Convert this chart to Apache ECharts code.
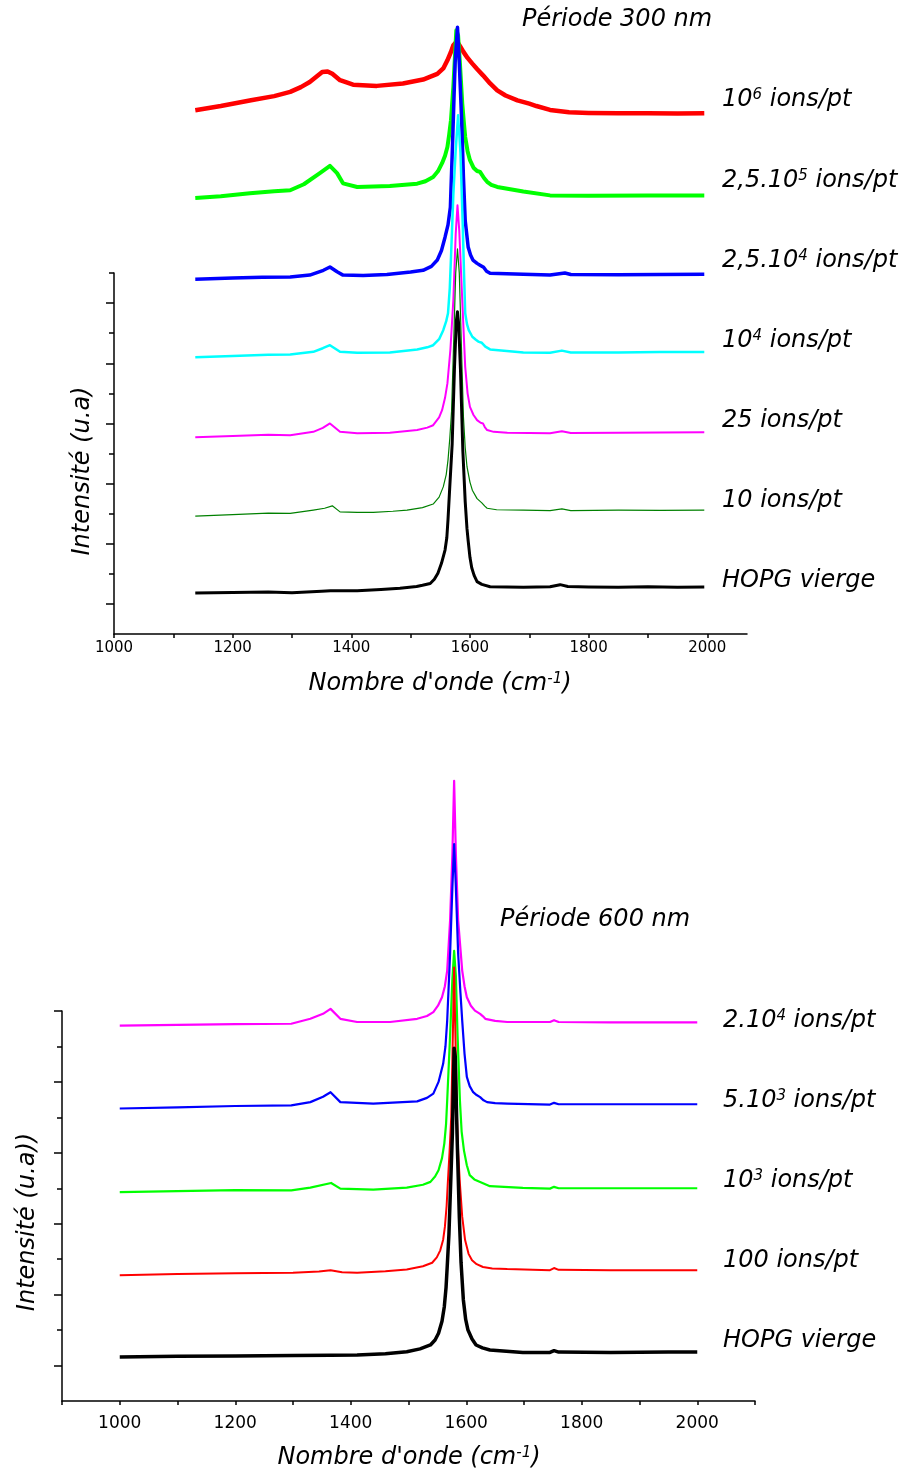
<!DOCTYPE html>
<html>
<head>
<meta charset="utf-8">
<script src="https://cdn.jsdelivr.net/npm/echarts@6/dist/echarts.min.js"></script>
<style>
html,body{margin:0;padding:0;background:#fff;}
#chart{width:914px;height:1475px;}
</style>
</head>
<body>
<div id="chart"></div>
<script>
// ---------- DATA (wavenumber cm-1, intensity in axis units) ----------
// Top panel: Période 300 nm
const topXTicks = [1000,1100,1200,1300,1400,1500,1600,1700,1800,1900,2000];
const topXLabels = [1000,1200,1400,1600,1800,2000];
const topYMajor = [1,3,5,7,9,11];
const topYMinor = [2,4,6,8,10,12];

const topRed = [[1137,17.41],[1180,17.55],[1231,17.74],[1270,17.88],[1297,18.02],[1315,18.18],[1330,18.35],[1351,18.68],[1360,18.7],[1368,18.62],[1381,18.41],[1403,18.26],[1443,18.22],[1487,18.30],[1521,18.43],[1545,18.62],[1555,18.8],[1562,19.07],[1568,19.35],[1572,19.57],[1578,19.7],[1583,19.55],[1589,19.35],[1596,19.15],[1604,18.96],[1612,18.78],[1622,18.57],[1634,18.3],[1646,18.07],[1660,17.9],[1680,17.74],[1700,17.63],[1712,17.55],[1735,17.42],[1767,17.34],[1800,17.32],[1850,17.31],[1900,17.31],[1950,17.3],[1995,17.31]];
const topGreen = [[1137,14.49],[1180,14.55],[1229,14.65],[1270,14.72],[1297,14.75],[1320,14.95],[1347,15.32],[1364,15.56],[1376,15.32],[1386,14.98],[1410,14.86],[1465,14.89],[1511,14.97],[1525,15.05],[1538,15.19],[1546,15.38],[1553,15.65],[1558,15.9],[1562,16.19],[1565,16.6],[1568,17.08],[1572,18.18],[1575,19.3],[1577,20.07],[1580,19.9],[1583,19.0],[1587,17.64],[1590,16.95],[1592,16.52],[1596,16.05],[1600,15.75],[1606,15.5],[1612,15.39],[1617,15.36],[1620,15.33],[1624,15.15],[1629,15.03],[1636,14.93],[1646,14.86],[1690,14.71],[1735,14.58],[1800,14.57],[1900,14.58],[1995,14.58]];
const topBlue = [[1137,11.79],[1200,11.83],[1250,11.86],[1297,11.87],[1330,11.93],[1353,12.09],[1364,12.2],[1376,12.04],[1386,11.93],[1420,11.92],[1460,11.95],[1500,12.03],[1521,12.09],[1535,12.22],[1545,12.43],[1552,12.75],[1558,13.19],[1563,13.6],[1567,14.19],[1571,16.5],[1575,19.0],[1579,20.17],[1582,19.0],[1586,17.08],[1589,15.2],[1592,13.75],[1597,12.86],[1601,12.6],[1605,12.43],[1612,12.32],[1617,12.26],[1623,12.19],[1628,12.06],[1634,11.99],[1690,11.96],[1735,11.93],[1760,12.0],[1770,11.95],[1850,11.94],[1920,11.95],[1995,11.96]];
const topCyan = [[1137,9.2],[1200,9.24],[1260,9.28],[1297,9.29],[1336,9.38],[1352,9.5],[1364,9.6],[1381,9.38],[1410,9.35],[1465,9.36],[1511,9.46],[1528,9.53],[1538,9.6],[1548,9.8],[1555,10.1],[1560,10.4],[1563,10.66],[1566,11.5],[1568,12.5],[1572,14.6],[1576,16.1],[1580,17.24],[1584,16.0],[1588,13.5],[1590,12.0],[1592,10.66],[1595,10.3],[1598,10.1],[1604,9.88],[1610,9.78],[1614,9.72],[1620,9.68],[1626,9.55],[1634,9.46],[1690,9.36],[1735,9.35],[1755,9.42],[1770,9.36],[1850,9.36],[1920,9.37],[1995,9.37]];
const topMagenta = [[1137,6.54],[1200,6.58],[1260,6.62],[1297,6.61],[1336,6.72],[1352,6.85],[1364,7.0],[1381,6.72],[1410,6.67],[1465,6.69],[1511,6.78],[1528,6.86],[1538,6.94],[1548,7.2],[1553,7.44],[1558,7.85],[1562,8.33],[1567,9.44],[1572,11.1],[1576,13.3],[1579,14.25],[1582,13.4],[1587,11.1],[1592,8.88],[1596,8.0],[1600,7.55],[1606,7.28],[1612,7.11],[1618,7.02],[1622,7.0],[1625,6.88],[1629,6.78],[1640,6.72],[1663,6.69],[1700,6.68],[1735,6.67],[1755,6.74],[1770,6.68],[1850,6.69],[1920,6.7],[1995,6.71]];
const topDarkGreen = [[1137,3.92],[1200,3.97],[1260,4.02],[1297,4.01],[1336,4.12],[1355,4.18],[1368,4.26],[1381,4.06],[1410,4.04],[1437,4.04],[1470,4.08],[1494,4.12],[1520,4.2],[1538,4.32],[1548,4.55],[1555,4.89],[1560,5.3],[1563,5.78],[1566,6.5],[1569,7.4],[1573,10.0],[1576,12.0],[1579,12.8],[1582,12.0],[1585,10.0],[1589,7.22],[1592,6.2],[1595,5.56],[1600,5.05],[1604,4.78],[1612,4.5],[1620,4.36],[1625,4.25],[1629,4.18],[1645,4.13],[1690,4.12],[1735,4.10],[1755,4.16],[1770,4.1],[1850,4.12],[1920,4.11],[1995,4.12]];
const topBlack = [[1137,1.36],[1200,1.38],[1260,1.40],[1300,1.37],[1350,1.42],[1365,1.44],[1410,1.44],[1450,1.48],[1482,1.52],[1510,1.58],[1520,1.62],[1533,1.68],[1540,1.82],[1546,2.02],[1552,2.35],[1558,2.79],[1561,3.2],[1563,3.8],[1566,4.9],[1570,6.3],[1574,8.9],[1577,10.4],[1579,10.71],[1581,10.3],[1584,8.8],[1588,6.1],[1592,4.4],[1595,3.5],[1597,3.1],[1600,2.55],[1603,2.2],[1607,1.95],[1612,1.74],[1620,1.65],[1634,1.57],[1690,1.55],[1735,1.57],[1752,1.64],[1765,1.58],[1800,1.56],[1850,1.55],[1900,1.57],[1950,1.55],[1995,1.56]];

// Bottom panel: Période 600 nm
const botXTicks = [900,1000,1100,1200,1300,1400,1500,1600,1700,1800,1900,2000,2100];
const botXLabels = [1000,1200,1400,1600,1800,2000];
const botYMajor = [1,3,5,7,9,11];
const botYMinor = [2,4,6,8,10];

const botMagenta = [[1000,10.59],[1100,10.61],[1200,10.63],[1297,10.64],[1330,10.78],[1352,10.92],[1365,11.06],[1382,10.78],[1411,10.69],[1468,10.69],[1515,10.78],[1532,10.86],[1543,10.97],[1551,11.15],[1558,11.39],[1563,11.7],[1567,12.14],[1572,13.55],[1576,15.43],[1579,17.49],[1582,15.43],[1586,13.55],[1593,12.14],[1597,11.7],[1601,11.39],[1608,11.15],[1615,11.01],[1624,10.92],[1629,10.85],[1633,10.78],[1650,10.72],[1671,10.69],[1745,10.69],[1752,10.74],[1760,10.69],[1850,10.68],[1950,10.68],[2000,10.68]];
const botBlue = [[1000,8.25],[1100,8.28],[1200,8.32],[1297,8.34],[1330,8.43],[1352,8.58],[1365,8.71],[1382,8.43],[1439,8.39],[1515,8.45],[1532,8.55],[1543,8.67],[1552,9.0],[1560,9.51],[1564,10.0],[1567,10.73],[1572,12.61],[1576,14.49],[1579,15.71],[1582,14.49],[1586,12.61],[1590,11.5],[1593,10.73],[1597,9.8],[1601,9.14],[1606,8.88],[1612,8.71],[1618,8.63],[1624,8.57],[1630,8.48],[1636,8.43],[1650,8.4],[1671,8.39],[1745,8.36],[1752,8.41],[1760,8.37],[1850,8.37],[1950,8.37],[2000,8.37]];
const botGreen = [[1000,5.89],[1100,5.92],[1200,5.95],[1297,5.94],[1330,6.02],[1366,6.15],[1382,5.99],[1439,5.96],[1497,6.02],[1525,6.1],[1538,6.18],[1546,6.33],[1552,6.51],[1558,6.85],[1562,7.26],[1565,7.8],[1567,8.48],[1572,10.3],[1576,11.9],[1579,12.70],[1582,12.0],[1585,10.3],[1589,8.48],[1592,7.6],[1596,7.07],[1601,6.65],[1606,6.37],[1614,6.25],[1624,6.18],[1641,6.06],[1698,6.01],[1745,5.99],[1752,6.04],[1760,6.0],[1850,6.0],[1950,6.0],[2000,6.0]];
const botRed = [[1000,3.55],[1100,3.58],[1200,3.6],[1300,3.62],[1345,3.65],[1365,3.69],[1385,3.63],[1411,3.62],[1460,3.66],[1497,3.71],[1525,3.8],[1541,3.90],[1549,4.05],[1555,4.25],[1560,4.55],[1563,4.91],[1566,5.5],[1568,6.13],[1571,7.0],[1574,8.01],[1577,10.5],[1579,12.23],[1581,10.5],[1584,8.01],[1586,7.0],[1589,6.13],[1593,5.2],[1598,4.54],[1604,4.15],[1610,3.97],[1618,3.86],[1629,3.78],[1645,3.74],[1671,3.72],[1745,3.69],[1752,3.75],[1760,3.70],[1850,3.69],[1950,3.69],[2000,3.69]];
const botBlack = [[1000,1.24],[1100,1.26],[1200,1.27],[1300,1.28],[1365,1.29],[1411,1.30],[1460,1.33],[1497,1.39],[1520,1.47],[1538,1.58],[1546,1.72],[1552,1.91],[1558,2.25],[1562,2.66],[1565,3.2],[1567,3.78],[1570,4.7],[1572,5.66],[1576,7.54],[1579,9.95],[1581,9.7],[1584,7.54],[1588,5.19],[1591,3.9],[1595,2.85],[1599,2.3],[1603,2.0],[1610,1.75],[1617,1.58],[1628,1.5],[1641,1.44],[1698,1.37],[1745,1.37],[1752,1.42],[1760,1.38],[1850,1.37],[1950,1.38],[2000,1.38]];

// ---------- CHART ----------
const chart = echarts.init(document.getElementById('chart'), null, {renderer:'canvas'});
const AX = {color:'#000', width:1.5};
const IT = '"DejaVu Sans", sans-serif';

function xAxisCfg(grid, min, max, ticks, labels, fs, margin){
  return {type:'value', gridIndex:grid, min:min, max:max, position:'bottom',
    axisLine:{show:true, onZero:false, lineStyle:AX},
    axisTick:{show:true, inside:false, length:4, lineStyle:AX, customValues:ticks},
    axisLabel:{show:true, customValues:labels, color:'#000', fontSize:fs, fontFamily:IT, margin:margin,
      formatter:function(v){ return String(v); }},
    splitLine:{show:false}};
}
function yAxisCfg(grid, max, ticks, len, line){
  return {type:'value', gridIndex:grid, min:0, max:max, position:'left',
    axisLine:{show:line, onZero:false, lineStyle:AX},
    axisTick:{show:true, inside:false, length:len, lineStyle:AX, customValues:ticks},
    axisLabel:{show:false}, splitLine:{show:false}};
}
function ser(data, xi, yi, color, width){
  return {type:'line', xAxisIndex:xi, yAxisIndex:yi, data:data, showSymbol:false, symbol:'none',
    clip:false, silent:true, lineStyle:{color:color, width:width, join:'round'}, emphasis:{disabled:true}};
}
const rich = {
  a:{fontSize:24, fontStyle:'italic', fontFamily:IT, fill:'#000', color:'#000'},
  s:{fontSize:15, fontStyle:'italic', fontFamily:IT, fill:'#000', color:'#000', verticalAlign:'top', padding:[0,0,8,0]}
};
function txt(x, y, text, opts){
  opts = opts || {};
  return {type:'text', x:x, y:y, rotation:opts.rot||0, silent:true,
    style:{text:text, rich:rich, fill:'#000', font:'italic 24px '+IT,
      textAlign:opts.align||'left', textVerticalAlign:'middle', align:opts.align||'left', verticalAlign:'middle'}};
}

const option = {
  animation:false,
  backgroundColor:'#fff',
  grid:[
    {left:114, top:273, width:633, height:361, containLabel:false},
    {left:62, top:1011, width:693, height:390, containLabel:false}
  ],
  xAxis:[
    xAxisCfg(0, 1000, 2067, topXTicks, topXLabels, 15, 7),
    xAxisCfg(1, 900, 2100, botXTicks, botXLabels, 17, 14)
  ],
  yAxis:[
    yAxisCfg(0, 12, topYMajor, 8, true),
    yAxisCfg(0, 12, topYMinor, 5, false),
    yAxisCfg(1, 11, botYMajor, 8, true),
    yAxisCfg(1, 11, botYMinor, 5, false)
  ],
  series:[
    ser(topRed, 0, 0, '#ff0000', 4.5),
    ser(topGreen, 0, 0, '#00ff00', 4),
    ser(topBlue, 0, 0, '#0000ff', 3.5),
    ser(topCyan, 0, 0, '#00ffff', 2.5),
    ser(topMagenta, 0, 0, '#ff00ff', 2),
    ser(topDarkGreen, 0, 0, '#008000', 1.2),
    ser(topBlack, 0, 0, '#000000', 3),
    ser(botMagenta, 1, 2, '#ff00ff', 2.2),
    ser(botBlue, 1, 2, '#0000ff', 2.2),
    ser(botGreen, 1, 2, '#00ff00', 2.2),
    ser(botRed, 1, 2, '#ff0000', 2),
    ser(botBlack, 1, 2, '#000000', 3.5)
  ],
  graphic:[
    txt(522, 20, '{a|Période 300 nm}'),
    txt(722, 100, '{a|10}{s|6}{a| ions/pt}'),
    txt(722, 181, '{a|2,5.10}{s|5}{a| ions/pt}'),
    txt(722, 261, '{a|2,5.10}{s|4}{a| ions/pt}'),
    txt(722, 341, '{a|10}{s|4}{a| ions/pt}'),
    txt(722, 421, '{a|25 ions/pt}'),
    txt(722, 501, '{a|10 ions/pt}'),
    txt(722, 581, '{a|HOPG vierge}'),
    txt(440, 684, '{a|Nombre d\'onde (cm}{s|-1}{a|)}', {align:'center'}),
    txt(83, 471, '{a|Intensité (u.a)}', {align:'center', rot:Math.PI/2}),
    txt(500, 920, '{a|Période 600 nm}'),
    txt(723, 1021, '{a|2.10}{s|4}{a| ions/pt}'),
    txt(723, 1101, '{a|5.10}{s|3}{a| ions/pt}'),
    txt(723, 1181, '{a|10}{s|3}{a| ions/pt}'),
    txt(723, 1261, '{a|100 ions/pt}'),
    txt(723, 1341, '{a|HOPG vierge}'),
    txt(409, 1458, '{a|Nombre d\'onde (cm}{s|-1}{a|)}', {align:'center'}),
    txt(28, 1222, '{a|Intensité (u.a))}', {align:'center', rot:Math.PI/2})
  ]
};
chart.setOption(option);
</script>
</body>
</html>
